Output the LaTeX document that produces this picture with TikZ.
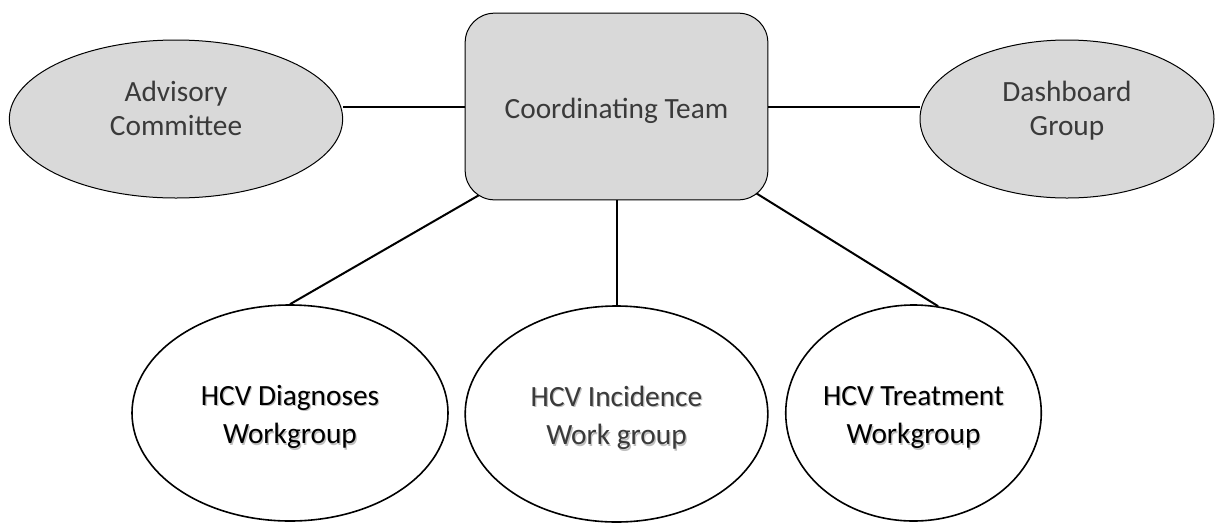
\documentclass[tikz,border=0pt]{standalone}
\usepackage{fontspec}
\setmainfont{Carlito}
\usetikzlibrary{shapes.geometric,backgrounds}

\definecolor{boxgray}{HTML}{D9D9D9}
\definecolor{txtgray}{HTML}{3A3A3A}

% soft shadow under a line of text
\newcommand{\shd}[1]{\leavevmode\rlap{\kern0.9pt\lower0.9pt\hbox{\color{black!25}#1}}#1}
% centred lines, moved up or down inside the shape
\newcommand{\lift}[2]{\raisebox{#1}[0pt][0pt]{\begin{tabular}{@{}c@{}}#2\end{tabular}}}

\tikzset{
  grayoval/.style={ellipse, draw, line width=0.75pt, fill=boxgray, text=txtgray,
    inner sep=0pt, font=\fontsize{22}{26}\selectfont},
  teambox/.style={rectangle, rounded corners=22pt, draw, line width=0.75pt, fill=boxgray,
    text=txtgray, font=\fontsize{22}{26}\selectfont},
  workoval/.style={ellipse, draw, line width=1.2pt, fill=white,
    inner sep=0pt, font=\fontsize{22}{29}\selectfont},
  link/.style={line width=1.5pt}
}

\begin{document}
\begin{tikzpicture}[x=0.75pt,y=-0.75pt]
    \useasboundingbox (0,0) rectangle (1216,522);

    % Gruppi in alto
    \node[grayoval, minimum width=250pt, minimum height=118.5pt] (adv) at (176,119) {\lift{0.5pt}{Advisory\\Committee}};
    \node[teambox, minimum width=227pt, minimum height=140pt] (ct) at (616.5,106.5) {\lift{-9pt}{Coordinating Team}};
    \node[grayoval, minimum width=220.5pt, minimum height=118.5pt] (dash) at (1067,119) {\lift{0.5pt}{Dashboard\\Group}};

    % Gruppi di lavoro
    \node[workoval, minimum width=237pt, minimum height=162pt] (diag) at (290,413) {\lift{-8pt}{\shd{HCV Diagnoses}\\\shd{Workgroup}}};
    \node[workoval, text=txtgray, minimum width=227pt, minimum height=162pt] (inc) at (616.5,414) {\lift{-8pt}{\shd{HCV Incidence}\\\shd{Work group}}};
    \node[workoval, minimum width=190pt, minimum height=162pt] (treat) at (913.5,413) {\lift{-8pt}{\shd{HCV Treatment}\\\shd{Workgroup}}};

    % Collegamenti
    \begin{pgfonlayer}{background}
        \fill[white] (0,0) rectangle (1216,522);
        \draw[link] (ct.west) -- (ct.west -| adv.east);
        \draw[link] (ct.east) -- (ct.east -| dash.west);
        \draw[link] (diag.north) -- ([yshift=-7pt]ct.center);
        \draw[link] (inc.north) -- (ct.south);
        \draw[link] (treat.77) -- (ct.center);
    \end{pgfonlayer}
\end{tikzpicture}
\end{document}
